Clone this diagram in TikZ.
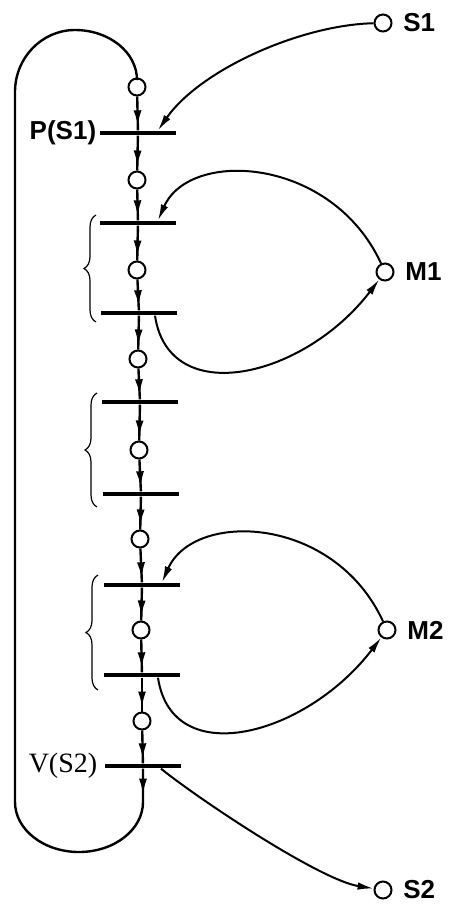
\documentclass[tikz,border=0pt]{standalone}
\usepackage{fontspec}
\setmainfont{Liberation Serif}
\setsansfont{Liberation Sans}
\usetikzlibrary{arrows.meta,decorations.pathreplacing,decorations.markings}
\tikzset{
	place/.style={circle,draw,line width=1pt,minimum size=8.5pt,inner sep=0pt,fill=white},
	trans/.style={rectangle,fill=black,minimum width=38pt,minimum height=2.3pt,inner sep=0pt},
	lbl/.style={font=\sffamily\bfseries\fontsize{13}{15}\selectfont,inner sep=0pt},
	link/.style={line width=1pt,-{Latex[length=8pt,width=3.8pt]}},
	axisflow/.style={line width=1.2pt,postaction={decorate},
		decoration={markings,mark=at position -2pt with {\arrow{Latex[length=8pt,width=4pt]}}}},
	loopflow/.style={line width=1.2pt,postaction={decorate},
		decoration={markings,mark=at position 13pt with {\arrow{Latex[length=8pt,width=4pt]}}}},
}
\begin{document}
\begin{tikzpicture}[x=0.5pt,y=-0.5pt]
	\useasboundingbox(0,0)rectangle(453,906);
	\foreach \n/\x/\y in{0/137/87,1/137/180,2/137/270,3/138/359,4/139/450,5/140/539,6/141/630,7/142/721}
		\node[place](p\n)at(\x,\y){};
	\foreach \n/\x/\y in{1/138/133,2/138/223,3/139/313,4/140/402,5/141/494,6/142/585,7/142/675,8/143/766}
		\node[trans](t\n)at(\x,\y){};
	\foreach \n[count=\m from 0]in{1,...,8}
		\draw[axisflow](p\m)--(t\n);
	\foreach \n in{1,...,7}
		\draw[axisflow](t\n)--(p\n);
	\draw[loopflow](t8)--++(0,36)arc[start angle=0,end angle=180,x radius=64,y radius=50]
		--(15,92)arc[start angle=180,end angle=270,x radius=60,y radius=62]
		arc[start angle=270,end angle=360,x radius=62,y radius=50]--(p0);
	\node[place](s1)at(383,23){};
	\node[place](m1)at(385,272){};
	\node[place](m2)at(387,630){};
	\node[place](s2)at(383,890){};
	\foreach \s/\t in{s1/S1,m1/M1,m2/M2,s2/S2}
		\node[lbl,anchor=west](\s-lbl)at([xshift=10pt]\s.center){\t};
	\node[lbl,anchor=east](ps1)at([xshift=-1.5pt]t1.west){P(S1)};
	\node[font=\fontsize{14}{16}\selectfont,inner sep=0pt,anchor=east](vs2)at([xshift=-3.5pt]t8.west){V(S2)};
	\draw[link](s1)..controls(300,25)and(200,70)..([xshift=10pt]t1.north);
	\foreach \m/\a/\b in{m1/t2/t3,m2/t6/t7}{
		\draw[link](\m)..controls+(-53,-115)and+(32,-72)..([xshift=10pt]\a.north);
		\draw[link]([xshift=8pt]\b.south)..controls+(14,94)and+(-81,106)..(\m);
	}
	\draw[link]([xshift=9pt]t8.south)..controls(200,800)and(320,880)..(s2);
	\foreach \a/\b/\x in{215/322/96,393/507/97,575/690/98}
		\draw[decorate,decoration={brace,amplitude=6pt},line width=.6pt](\x,\b)--(\x,\a);
\end{tikzpicture}
\end{document}
